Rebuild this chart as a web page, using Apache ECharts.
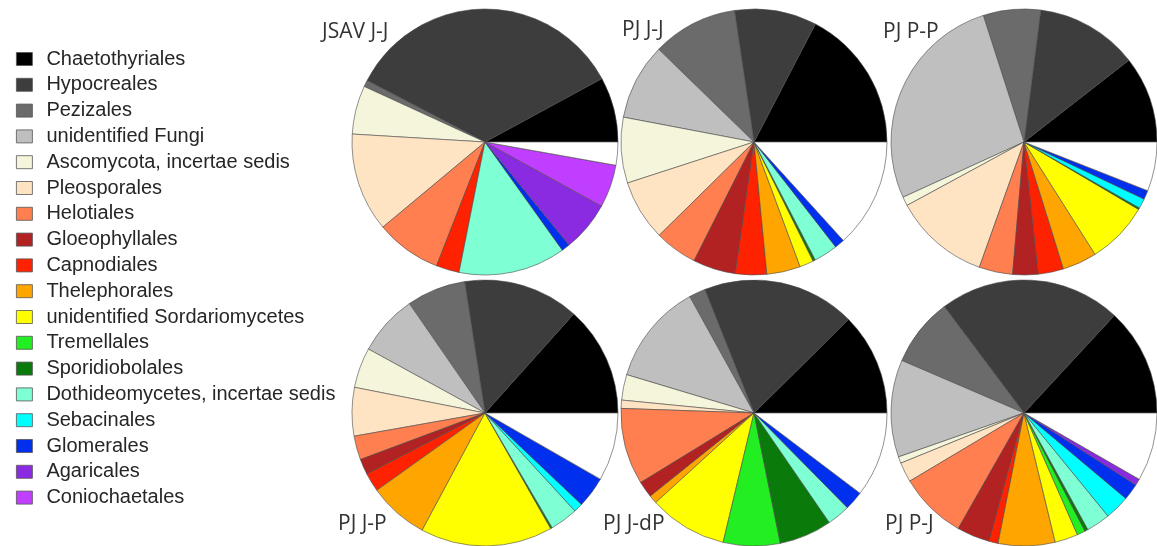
<!DOCTYPE html>
<html>
<head>
<meta charset="utf-8">
<script src="https://cdn.jsdelivr.net/npm/echarts@6/dist/echarts.min.js"></script>
<style>
  html, body { margin: 0; padding: 0; background: #fff; }
  #chart { width: 1157px; height: 546px; }
</style>
</head>
<body>
<div id="chart"></div>
<script>
const TAXA = [
  "Chaetothyriales", "Hypocreales", "Pezizales", "unidentified Fungi",
  "Ascomycota, incertae sedis", "Pleosporales", "Helotiales", "Gloeophyllales",
  "Capnodiales", "Thelephorales", "unidentified Sordariomycetes", "Tremellales",
  "Sporidiobolales", "Dothideomycetes, incertae sedis", "Sebacinales", "Glomerales",
  "Agaricales", "Coniochaetales"
]

const TAXA_COLORS = [
  "#000000", "#3d3d3d", "#6b6b6b", "#bfbfbf",
  "#f5f5dc", "#ffe4c4", "#ff7f50", "#b22222",
  "#ff2200", "#ffa500", "#ffff00", "#22ee22",
  "#0a7a0a", "#7fffd4", "#00ffff", "#0030ee",
  "#8a2be2", "#bf3eff"
]

const SITES = ["JSAV J-J", "PJ J-J", "PJ P-P", "PJ J-P", "PJ J-dP", "PJ P-J"]

// share of reads (%) per taxon, same order as TAXA
const JSAV_JJ = [7.9, 34.4, 0.8, 0, 5.9, 12.0, 8.0, 0, 2.8, 0, 0, 0, 0, 13.0, 0, 1.0, 6.1, 5.2]
const PJ_JJ = [17.4, 10.0, 10.4, 9.3, 8.0, 7.4, 5.2, 5.2, 3.8, 4.1, 1.7, 0, 0.3, 2.9, 0, 1.2, 0, 0]
const PJ_PP = [10.6, 12.5, 7.0, 27.0, 1.1, 11.7, 4.1, 3.1, 3.1, 4.2, 7.6, 0, 0.2, 0, 1.2, 1.1, 0, 0]
const PJ_JP = [13.4, 14.1, 7.2, 7.4, 4.9, 5.9, 2.9, 1.9, 2.3, 7.3, 16.1, 0, 0.2, 3.4, 1.1, 3.8, 0, 0]
const PJ_JDP = [12.4, 18.6, 2.0, 12.3, 3.1, 1.0, 9.3, 2.0, 0, 1.0, 9.5, 6.9, 6.4, 2.8, 0, 2.3, 0, 0]
const PJ_PJ = [13.1, 22.1, 8.3, 11.8, 0.8, 2.4, 8.2, 4.0, 1.1, 6.9, 2.8, 1.0, 0.4, 2.9, 3.0, 2.0, 0.8, 0]

// remaining share, drawn as the white slice
const OTHER = [2.8, 13.3, 6.0, 8.3, 10.3, 8.3]

const SITE_VALUES = [JSAV_JJ, PJ_JJ, PJ_PP, PJ_JP, PJ_JDP, PJ_PJ]
const PIE_CENTERS = [[485, 142], [754, 142], [1024, 142], [485, 413], [754, 413], [1024, 413]]
const LABEL_POS = [[322, 32], [622, 30], [883, 32], [338, 524], [603, 524], [885, 524]]

const chart = echarts.init(document.getElementById("chart"), null, { renderer: "canvas" })

function pieSeries(values, index) {
  const data = TAXA.map((name, i) => ({
    name,
    value: values[i],
    itemStyle: { color: TAXA_COLORS[i] }
  })).filter((item) => item.value > 0)

  data.push({ name: "Other", value: OTHER[index], itemStyle: { color: "#ffffff" } })

  return {
    type: "pie",
    name: SITES[index],
    center: PIE_CENTERS[index],
    radius: 133,
    startAngle: 0,
    clockwise: false,
    avoidLabelOverlap: false,
    label: { show: false },
    labelLine: { show: false },
    emphasis: { disabled: true },
    itemStyle: { borderColor: "#4a4a4a", borderWidth: 0.6 },
    data
  }
}

chart.setOption({
  animation: false,
  legend: {
    orient: "vertical",
    left: 11,
    top: 44,
    selectedMode: false,
    icon: "rect",
    itemWidth: 16,
    itemHeight: 13,
    itemGap: 5.8,
    itemStyle: { borderColor: "#555", borderWidth: 0.8 },
    textStyle: {
      fontFamily: "Liberation Sans, Arial, sans-serif",
      fontSize: 20,
      lineHeight: 20,
      color: "#262626",
      padding: [0, 0, 0, 9]
    },
    data: TAXA.map((name, i) => ({ name, itemStyle: { color: TAXA_COLORS[i] } }))
  },
  graphic: SITES.map((site, i) => ({
    type: "text",
    x: LABEL_POS[i][0],
    y: LABEL_POS[i][1],
    z: 10,
    style: {
      text: site,
      font: "21px 'Open Sans', sans-serif",
      fill: "#333333",
      verticalAlign: "middle"
    }
  })),
  series: SITE_VALUES.map(pieSeries)
})
</script>
</body>
</html>
